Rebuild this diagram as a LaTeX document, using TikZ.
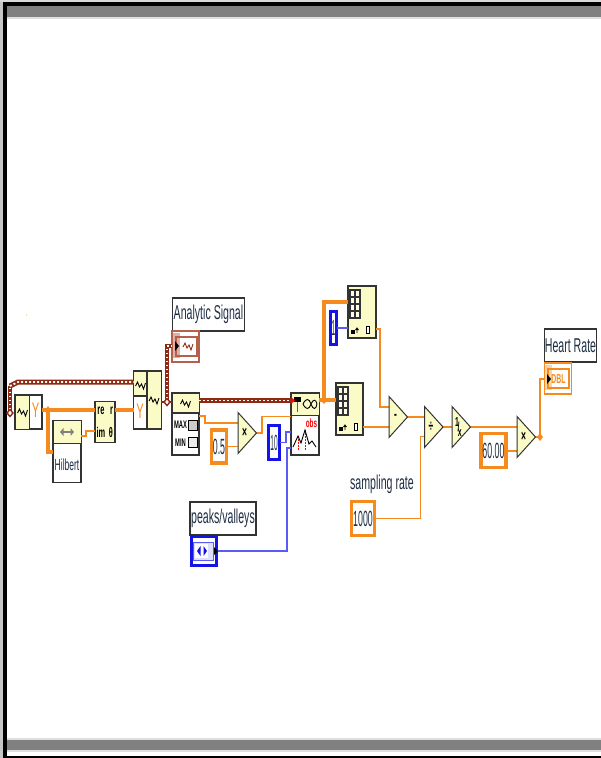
\documentclass[tikz,border=0pt]{standalone}
\usepackage{fontspec}
\setmainfont[FakeStretch=0.53]{Liberation Sans}
\newfontfamily\numfont[FakeStretch=0.4]{Liberation Sans}
\newfontfamily\tightfont[FakeStretch=0.3]{Liberation Sans}
\usetikzlibrary{calc}
\definecolor{lvorange}{HTML}{F58A1E}
\definecolor{lvblue}{HTML}{1414E6}
\definecolor{lvthin}{HTML}{5A5AF5}
\definecolor{lvyellow}{HTML}{FBFBC8}
\definecolor{lvbrown}{HTML}{8E2A14}
\definecolor{lvterm}{HTML}{B4604A}
\definecolor{lvpink}{HTML}{E0AFA5}
\definecolor{lvpeach}{HTML}{FAD3A8}
\definecolor{lvframe}{HTML}{333333}
\definecolor{lvtext}{HTML}{1E2E44}
\tikzset{
  vibox/.style={draw=lvframe,line width=1.5pt,fill=white,inner sep=0pt,outer sep=0pt},
  yelbox/.style={vibox,fill=lvyellow},
  caption/.style={draw=lvframe,line width=1.6pt,fill=white,inner sep=0pt,outer sep=0pt,text=lvtext,font=\fontsize{20}{20}\selectfont},
  free/.style={inner sep=0pt,outer sep=0pt,text=lvtext,font=\fontsize{20}{20}\selectfont},
  numo/.style={draw=lvorange,line width=3.2pt,fill=white,inner sep=0pt,outer sep=0pt,text=lvtext,font=\numfont\fontsize{22}{22}\selectfont},
  numb/.style={draw=lvblue,line width=3.2pt,fill=white,inner sep=0pt,outer sep=0pt,text=lvtext,font=\tightfont\fontsize{22}{22}\selectfont},
  wthin/.style={draw=lvorange,line width=1.5pt},
  wthick/.style={draw=lvorange,line width=3.6pt},
  wblue/.style={draw=lvthin,line width=1.5pt},
  jun/.style={fill=lvorange,draw=none},
  boldlab/.style={inner sep=0pt,font=\bfseries\fontsize{14}{14}\selectfont,text=black},
}
\newcommand{\wavy}[3]{\draw[#3,line width=.9pt] (#1-5,#2+1) -- (#1-3,#2-3) -- (#1-1,#2+2) -- (#1+1,#2-1) -- (#1+3,#2+4) -- (#1+5,#2-2);}
\newcommand{\cluster}[1]{%
  \draw[lvbrown,line width=5pt] #1;
  \draw[white!85!pink,line width=1.8pt,dash pattern=on 2pt off 2pt] #1;}
\newcommand{\clusterthin}[1]{%
  \draw[lvbrown,line width=3.4pt] #1;
  \draw[white,line width=1.2pt,dash pattern=on 1.5pt off 2.5pt] #1;}
% name, left x, top y, label
\newcommand{\gatetri}[4]{%
  \draw[draw=lvframe,fill=lvyellow,line width=1pt] (#2,#3) -- (#2+18.5,#3+20.5) -- (#2,#3+41) -- cycle;
  \coordinate (#1-out) at (#2+18.5,#3+20.5);
  \node[inner sep=0pt,font=\bfseries\fontsize{16}{16}\selectfont,text=black] (#1) at (#2+6.5,#3+20.5) {#4};}
% array subset icon: left and top of the grid
\newcommand{\arrayicon}[2]{%
  \draw[lvframe,line width=1.2pt,fill=lvyellow!40] (#1,#2) rectangle (#1+10,#2+28);
  \draw[lvframe,line width=1.2pt] (#1+5,#2) -- (#1+5,#2+28)
     (#1,#2+7) -- (#1+10,#2+7) (#1,#2+14) -- (#1+10,#2+14) (#1,#2+21) -- (#1+10,#2+21);
  \fill[black] (#1+1,#2+40) rectangle (#1+4.5,#2+43.5);
  \draw[black,line width=.9pt] (#1+7,#2+43) -- (#1+7,#2+38) (#1+5.5,#2+40) -- (#1+7,#2+38) -- (#1+8.5,#2+40);
  \draw[black,line width=.9pt,fill=white] (#1+16,#2+36) rectangle (#1+19.5,#2+43.5);}
\begin{document}
\begin{tikzpicture}[x=1pt,y=-1pt]
\useasboundingbox (0,0) rectangle (601,758);
\fill[white] (0,0) rectangle (601,758);
% window frame
\fill[gray!45] (0,0) rectangle (4,758);
\fill[gray!30] (0,0) rectangle (601,2);
\fill[black] (3,2) rectangle (601,6);
\fill[black] (3,2) rectangle (7,758);
\fill[black] (3,756) rectangle (601,758);
\fill[gray] (7,6) rectangle (601,17);
\fill[gray!25] (7,17) rectangle (601,18.5);
\fill[gray!25] (7,737.5) rectangle (601,752);
\fill[gray] (7,740) rectangle (601,750);
\fill[lvyellow!80!orange] (25.5,314) rectangle (27,316);

% ---------- nodes
\node[vibox,minimum width=27pt,minimum height=34pt] (fft) at (28.5,412) {};
\node[vibox,minimum width=28pt,minimum height=62pt] (hil) at (67,451.5) {};
\node[yelbox,minimum width=20pt,minimum height=41pt] (pol) at (105,422) {};
\node[vibox,minimum width=28pt,minimum height=58pt] (ifft) at (147.5,400) {};
\node[caption,minimum width=72pt,minimum height=33pt] (lblA) at (208.5,314.5) {Analytic Signal};
\node[draw=lvterm,line width=1.6pt,fill=white,minimum width=27pt,minimum height=31pt,inner sep=0pt,outer sep=0pt] (termA) at (185.5,346.5) {};
\node[vibox,minimum width=27pt,minimum height=62pt] (mm) at (185.5,424) {};
\node[numo,minimum width=15pt,minimum height=33pt] (c05) at (219,446.5) {0.5};
\node[numb,minimum width=11pt,minimum height=34pt] (c10) at (274,442.5) {10};
\node[vibox,minimum width=28pt,minimum height=62pt] (peak) at (305,424) {};
\node[numb,line width=2.8pt,minimum width=6.5pt,minimum height=33pt] (c1) at (333.5,328) {1};
\node[yelbox,minimum width=28pt,minimum height=52pt] (arr1) at (362,312) {};
\node[yelbox,minimum width=27pt,minimum height=52pt] (arr2) at (349.5,409) {};
\node[free] (lblS) at (382,484.5) {sampling rate};
\node[numo,minimum width=23pt,minimum height=34pt] (c1000) at (363,518.5) {1000};
\node[numo,minimum width=25pt,minimum height=34pt] (c60) at (493.5,450.5) {60.00};
\node[caption,minimum width=52pt,minimum height=33pt] (lblH) at (570.5,345.5) {Heart Rate};
\node[draw=lvorange,line width=1.6pt,fill=white,minimum width=27pt,minimum height=31pt,inner sep=0pt,outer sep=0pt] (termH) at (558,378.5) {};
\node[caption,minimum width=66pt,minimum height=33pt] (lblP) at (223,518.5) {peaks/valleys};
\node[draw=lvblue,line width=3.2pt,fill=white,minimum width=25pt,minimum height=29pt,inner sep=0pt,outer sep=0pt] (ctl) at (204,551) {};
\coordinate (j1) at (10,413);
\coordinate (j2) at (167,402);
\coordinate (j3) at (48,410);
\coordinate (j4) at (324,400);
\coordinate (j5) at (540,437);

% ---------- connectors
\clusterthin{(j1) -- (10,386)}
\cluster{(10,386) -- (18,382) -- (133.5,382)}
\clusterthin{(j2) -- (167,346) -- (172,346)}
\cluster{(199,400.5) -- (291,400.5)}
\draw[lvbrown,line width=2pt] (161,402) -- (172,402);
\draw[wthick] (fft.east |- j3) -- (pol.west |- j3);
\draw[wthick] (j3) -- (48,452) -- (hil.west |- 0,452);
\draw[wthick] (pol.east |- j3) -- (ifft.west |- j3);
\draw[wthin,line width=2.6pt] (hil.east |- 0,436) -- (86,436) -- (86,431) -- (pol.west |- 0,431);
\draw[wthin] (199,416) -- (205,416) -- (205,423) -- (238,423);
\draw[wthin] (c05.east) -- (238,446.5);
\draw[wthin] (256,433) -- (262,433) -- (262,416.5) -- (291,416.5);
\draw[wthick] (319,400) -- (arr2.west |- 0,400);
\draw[wthick] (j4) -- (324,302) -- (arr1.west |- 0,302);
\draw[wblue,line width=1.8pt] (c1.east) -- (arr1.west |- c1.east);
\draw[wblue] (c10.east) -- (286,442.5) -- (286,432) -- (291,432);
\draw[wblue] (ctl.east |- 0,551) -- (287,551) -- (287,448) -- (291,448);
\draw[wthin] (arr1.east |- 0,329) -- (380,329) -- (380,407) -- (389,407);
\draw[wthin] (arr2.east |- 0,427) -- (389,427);
\draw[wthin] (407,417) -- (424,417);
\draw[wthin] (c1000.east) -- (420.5,518.5) -- (420.5,436.5) -- (424,436.5);
\draw[wthin] (443,427) -- (452,427);
\draw[wthin,line width=2pt] (470,427) -- (517,427);
\draw[wthin,line width=2pt] (c60.east) -- (517,450.5);
\draw[wthin] (535,437) -- (j5);
\draw[wthin] (j5) -- (540,379) -- (545,379);

% ---------- junctions
\draw[lvbrown,line width=1.4pt,fill=white] ($(j1)+(-3,0)$) -- ($(j1)+(0,-3.5)$) -- ($(j1)+(3,0)$) -- ($(j1)+(0,3.5)$) -- cycle;
\draw[lvbrown,line width=1.4pt,fill=white] ($(j2)+(-3,0)$) -- ($(j2)+(0,-3.5)$) -- ($(j2)+(3,0)$) -- ($(j2)+(0,3.5)$) -- cycle;
\fill[jun] ($(j3)+(-3,0)$) -- ($(j3)+(0,-4)$) -- ($(j3)+(3,0)$) -- ($(j3)+(0,4)$) -- cycle;
\fill[jun] ($(j4)+(-3.5,0)$) -- ($(j4)+(0,-4)$) -- ($(j4)+(3.5,0)$) -- ($(j4)+(0,4)$) -- cycle;
\fill[jun] ($(j5)+(-3,0)$) -- ($(j5)+(0,-4)$) -- ($(j5)+(3,0)$) -- ($(j5)+(0,4)$) -- cycle;

% ---------- box details
% fft
\fill[lvyellow] (15.5,395.5) rectangle (29,428.5);
\draw[lvframe,line width=1.5pt] (29.5,395) -- (29.5,429);
\wavy{22.5}{412}{black}
\node[inner sep=0pt,text=lvorange,font=\fontsize{21}{21}\selectfont] (fftY) at (35.5,410.5) {Y};
% hilbert
\fill[lvyellow] (53.5,421) rectangle (80.5,443);
\draw[lvframe,line width=1.5pt] (53,443.5) -- (81,443.5);
\node[inner sep=0pt,text=lvtext,font=\fontsize{16}{16}\selectfont] (hilT) at (67,465) {Hilbert};
\draw[gray,line width=1.3pt] (62,432) -- (72,432);
\fill[gray] (60,432) -- (63.5,428) -- (63.5,436) -- cycle;
\fill[gray] (74,432) -- (70.5,428) -- (70.5,436) -- cycle;
% re im
\node[boldlab] (polre) at (101,410.5) {re};
\node[boldlab] (polim) at (101,432.5) {im};
\node[boldlab] (polr) at (111.5,410.5) {r};
\node[boldlab] (polth) at (111,432.5) {θ};
% ifft
\fill[lvyellow] (134,372) rectangle (146.5,396);
\fill[lvyellow] (147.5,372) rectangle (161,428);
\draw[lvframe,line width=1.5pt] (147,371) -- (147,429) (133.5,396) -- (147,396);
\wavy{140.5}{385}{black}
\wavy{154}{400}{black}
\node[inner sep=0pt,text=lvorange,font=\fontsize{21}{21}\selectfont] (ifftY) at (140,411) {Y};
% analytic terminal
\fill[lvpink] (173,333) rectangle (180,358);
\draw[lvterm,line width=1.4pt] (176,337) rectangle (197,356);
\fill[black] (175,341) -- (179,346) -- (175,351) -- cycle;
\wavy{188}{346}{lvbrown}
% max min
\fill[lvyellow] (172.5,393.5) rectangle (198.5,412.5);
\draw[lvframe,line width=1.5pt] (172,413) -- (199,413);
\wavy{185.5}{403}{black}
\node[boldlab,font=\bfseries\fontsize{11}{11}\selectfont] (mx) at (180.5,425) {MAX};
\node[boldlab,font=\bfseries\fontsize{11}{11}\selectfont] (mn) at (180.5,443) {MIN};
\draw[black,line width=.8pt,fill=gray!40] (188.5,420) rectangle (197,430);
\draw[black,line width=.8pt,fill=gray!15] (188.5,437.5) rectangle (197,447.5);
% triangles
\gatetri{mul1}{238}{412.5}{×}
\gatetri{sub}{389}{396.5}{-}
\gatetri{dvd}{424.5}{406.5}{÷}
\gatetri{inv}{452}{406.5}{\fontsize{13}{13}\selectfont\raisebox{5pt}{1}\kern-1.5pt/\kern-1.5pt\raisebox{-5pt}{x}}
\gatetri{mul2}{517}{416.5}{×}
% peak detector
\fill[lvyellow] (291.5,393.5) rectangle (318.5,415);
\draw[lvframe,line width=1.5pt] (291,415.5) -- (319,415.5);
\draw[brown!70!black,line width=1.8pt] (297.5,398) -- (297.5,412);
\fill[black] (293.5,396.5) rectangle (301,402);
\fill[red] (291,397) -- (295,400.5) -- (291,404) -- cycle;
\draw[black,line width=.9pt] (303,404) .. controls (306,398) and (309,398) .. (311,404) .. controls (313,410) and (316,410) .. (317,404) .. controls (316,399) and (313,399) .. (311,404) .. controls (309,410) and (306,410) .. (303,404);
\draw[red,line width=.7pt,dash pattern=on 1.5pt off 1.5pt] (298,436) -- (298,451) (305,430) -- (305,451);
\draw[black,line width=.9pt] (293,447) -- (298,436) -- (301,443) -- (305,430) -- (309,444) -- (312,441) -- (316,447);
\node[inner sep=0pt,text=red,font=\bfseries\fontsize{12}{12}\selectfont] (obs) at (311.5,423) {obs};
% arrays
\arrayicon{350}{290}
\arrayicon{338}{387}
% dbl terminal
\fill[lvpeach] (545,365) rectangle (552,390);
\draw[lvorange,line width=1.4pt] (548,369) rectangle (569,388);
\fill[black] (547,374) -- (551,379) -- (547,384) -- cycle;
\node[inner sep=0pt,text=lvorange,font=\bfseries\fontsize{13}{13}\selectfont] (dbl) at (558.5,379) {DBL};
% control
\draw[lvthin,line width=1pt,fill=lvthin!20] (193.5,542) rectangle (213.5,560);
\fill[white] (195,544) rectangle (208,558);
\fill[lvblue] (200.5,546) -- (197,551) -- (200.5,556) -- cycle;
\fill[lvblue] (203.5,546) -- (207,551) -- (203.5,556) -- cycle;
\fill[black] (214,547) -- (218,551) -- (214,555) -- cycle;
\end{tikzpicture}
\end{document}
